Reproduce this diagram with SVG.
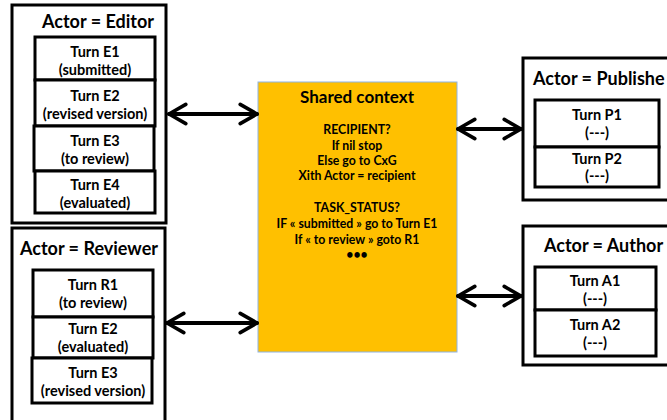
<svg xmlns="http://www.w3.org/2000/svg" width="667" height="420" viewBox="0 0 667 420">
<defs>
<style>
text{font-family:Lato,"Open Sans","Liberation Sans",sans-serif;font-weight:bold;fill:#000;text-anchor:middle}
.outer{fill:#fff;stroke:#000;stroke-width:3}
.turn{fill:#fff;stroke:#000;stroke-width:3}
.title{font-size:18px}
.t{font-size:14.5px}
.ctx{font-size:12.3px}
.conn{stroke:#000;stroke-width:4;fill:none;stroke-linecap:round}
</style>
<marker id="ah" viewBox="0 0 20 20" refX="18" refY="10" markerWidth="6" markerHeight="6" orient="auto-start-reverse" markerUnits="strokeWidth">
<path d="M4,2 L18,10 L4,18" fill="none" stroke="#000" stroke-width="3" stroke-linecap="round" stroke-linejoin="round"/>
</marker>
</defs>
<rect width="667" height="420" fill="#fff"/>

<g id="editor">
<rect class="outer" x="12" y="5" width="154" height="218"/>
<text class="title" x="98" y="28">Actor = Editor</text>
<g id="turnE1"><rect class="turn" x="35" y="37" width="120" height="43"/><text class="t" x="95" y="57">Turn E1</text><text class="t" x="95" y="75">(submitted)</text></g>
<g id="turnE2"><rect class="turn" x="35" y="80" width="120" height="46"/><text class="t" x="95" y="101">Turn E2</text><text class="t" x="95" y="119">(revised version)</text></g>
<g id="turnE3"><rect class="turn" x="34" y="126" width="120" height="45"/><text class="t" x="95" y="146">Turn E3</text><text class="t" x="95" y="164">(to review)</text></g>
<g id="turnE4"><rect class="turn" x="35" y="171" width="120" height="42"/><text class="t" x="95" y="190">Turn E4</text><text class="t" x="95" y="208">(evaluated)</text></g>
</g>

<g id="reviewer">
<rect class="outer" x="12" y="228" width="153" height="200"/>
<text class="title" x="89" y="255">Actor = Reviewer</text>
<g id="turnR1"><rect class="turn" x="33" y="270" width="120" height="47"/><text class="t" x="93" y="290">Turn R1</text><text class="t" x="93" y="308">(to review)</text></g>
<g id="turnRE2"><rect class="turn" x="33" y="317" width="120" height="41"/><text class="t" x="93" y="334">Turn E2</text><text class="t" x="93" y="352">(evaluated)</text></g>
<g id="turnRE3"><rect class="turn" x="32" y="358" width="120" height="45"/><text class="t" x="93" y="378">Turn E3</text><text class="t" x="93" y="396">(revised version)</text></g>
</g>

<g id="shared">
<rect x="258" y="82" width="199" height="270" fill="#FFC000" stroke="#8EB4E3" stroke-width="1"/>
<text class="title" x="357" y="103" style="font-size:17px">Shared context</text>
<text class="ctx" x="357" y="134">RECIPIENT?</text>
<text class="ctx" x="357" y="150">If nil stop</text>
<text class="ctx" x="357" y="165">Else go to CxG</text>
<text class="ctx" x="357" y="180">Xith Actor = recipient</text>
<text class="ctx" x="357" y="212">TASK_STATUS?</text>
<text class="ctx" x="357" y="228">IF « submitted » go to Turn E1</text>
<text class="ctx" x="357" y="244">If « to review » goto R1</text>
<text class="ctx" x="357" y="259">•••</text>
</g>

<g id="publisher">
<rect class="outer" x="523" y="58" width="160" height="142"/>
<text class="title" x="533" y="85" style="text-anchor:start">Actor = Publishe</text>
<g id="turnP1"><rect class="turn" x="535" y="100" width="124" height="47"/><text class="t" x="597" y="120">Turn P1</text><text class="t" x="597" y="138">(---)</text></g>
<g id="turnP2"><rect class="turn" x="535" y="147" width="124" height="40"/><text class="t" x="597" y="164">Turn P2</text><text class="t" x="597" y="181">(---)</text></g>
</g>

<g id="author">
<rect class="outer" x="523" y="226" width="160" height="139"/>
<text class="title" x="544" y="252" style="text-anchor:start">Actor = Author</text>
<g id="turnA1"><rect class="turn" x="535" y="267" width="121" height="43"/><text class="t" x="595" y="286">Turn A1</text><text class="t" x="595" y="304">(---)</text></g>
<g id="turnA2"><rect class="turn" x="535" y="310" width="121" height="46"/><text class="t" x="595" y="330">Turn A2</text><text class="t" x="595" y="348">(---)</text></g>
</g>

<g id="connectors">
<line class="conn" x1="169" y1="114" x2="257" y2="114" marker-start="url(#ah)" marker-end="url(#ah)"/>
<line class="conn" x1="167" y1="323" x2="257" y2="323" marker-start="url(#ah)" marker-end="url(#ah)"/>
<line class="conn" x1="458" y1="129" x2="521" y2="129" marker-start="url(#ah)" marker-end="url(#ah)"/>
<line class="conn" x1="458" y1="296" x2="521" y2="296" marker-start="url(#ah)" marker-end="url(#ah)"/>
</g>
</svg>
